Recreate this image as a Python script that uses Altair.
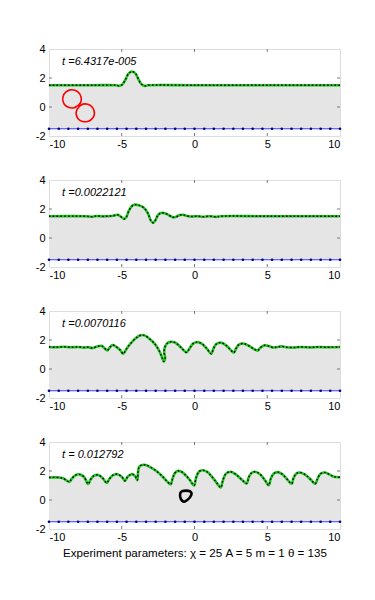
import altair as alt
import pandas as pd

# ---------------- data ----------------
X_DOMAIN = [-10, 10]
Y_DOMAIN = [-2, 4]
BOTTOM_LEVEL = -1.5
X_TICKS = [-10, -5, 0, 5, 10]
Y_TICKS = [-2, 0, 2, 4]
INNER_X_TICKS = [-5, 0, 5]
INNER_Y_TICKS = [0, 2]

TIME_LABELS = ["t =6.4317e-005", "t =0.0022121", "t =0.0070116", "t = 0.012792"]
LABEL_X = -9.1
LABEL_Y = 3.1
CAPTION = "Experiment parameters: \u03c7 = 25 A = 5 m = 1 \u03b8 = 135"

BOTTOM_DOTS_X = [-10, -9.33, -8.67, -8, -7.33, -6.67, -6, -5.33, -4.67, -4, -3.33,
                 -2.67, -2, -1.33, -0.67, 0, 0.67, 1.33, 2, 2.67, 3.33, 4, 4.67,
                 5.33, 6, 6.67, 7.33, 8, 8.67, 9.33, 10]

S1_X = [-10, -7, -5.4, -5.15, -4.95, -4.75, -4.55, -4.3, -4.05, -3.85, -3.65, -3.45, -3.2, 0, 5, 10]
S1_Y = [1.5, 1.5, 1.5, 1.46, 1.56, 1.88, 2.28, 2.45, 2.3, 1.9, 1.58, 1.46, 1.5, 1.5, 1.5, 1.5]

S2_X = [-10, -7.5, -7, -6.7, -6.3, -6, -5.6, -5.3, -5.1, -4.85, -4.7, -4.5, -4.3, -4.1,
        -3.8, -3.5, -3.2, -3.0, -2.85, -2.7, -2.5, -2.3, -2.1, -1.8, -1.5, -1.3, -1.0,
        -0.8, -0.5, -0.2, 0.2, 0.6, 1.0, 1.5, 1.8, 5, 10]
S2_Y = [1.5, 1.5, 1.47, 1.52, 1.49, 1.5, 1.53, 1.6, 1.5, 1.32, 1.42, 1.9, 2.2, 2.3,
        2.25, 2.1, 1.7, 1.2, 1.05, 1.2, 1.6, 1.72, 1.72, 1.6, 1.43, 1.45, 1.58,
        1.6, 1.52, 1.48, 1.5, 1.47, 1.5, 1.46, 1.5, 1.5, 1.5]

S3_X = [-10, -9.5, -9, -8.5, -8, -7.6, -7.3, -7.0, -6.7, -6.4, -6.2, -6.0, -5.85, -5.65,
        -5.4, -5.1, -4.9, -4.7, -4.4, -4.0, -3.7, -3.4, -3.0, -2.7, -2.45, -2.25, -2.12,
        -2.02, -2.08, -2.05, -1.9, -1.65, -1.35, -1.05, -0.8, -0.55, -0.35, -0.1, 0.15,
        0.5, 0.85, 1.15, 1.3, 1.5, 1.8, 2.15, 2.45, 2.7, 2.85, 3.05, 3.35, 3.7, 4.05,
        4.35, 4.5, 4.8, 5.1, 5.4, 5.7, 6.0, 6.3, 6.8, 7.3, 8, 8.5, 9, 10]
S3_Y = [1.52, 1.5, 1.53, 1.5, 1.52, 1.48, 1.5, 1.45, 1.55, 1.6, 1.45, 1.28, 1.45, 1.65,
        1.55, 1.3, 1.05, 1.35, 1.75, 2.15, 2.33, 2.3, 2.0, 1.7, 1.3, 0.85, 0.52,
        0.75, 1.1, 1.45, 1.75, 1.87, 1.83, 1.6, 1.35, 1.15, 1.4, 1.75, 1.85,
        1.75, 1.4, 1.05, 1.4, 1.72, 1.82, 1.65, 1.35, 1.13, 1.4, 1.68, 1.76, 1.62, 1.4,
        1.27, 1.45, 1.63, 1.58, 1.48, 1.52, 1.56, 1.5, 1.48, 1.52, 1.49, 1.52, 1.5, 1.52]

S4_X = [-10, -9.3, -9.0, -8.8, -8.6, -8.45, -8.2, -7.92, -7.6, -7.3, -7.15, -6.9, -6.61,
        -6.3, -6.04, -5.85, -5.6, -5.3, -5.0, -4.78, -4.6, -4.4, -4.25, -4.05, -3.93,
        -3.88, -3.8, -3.6, -3.35, -3.0, -2.6, -2.2, -1.9, -1.64, -1.5, -1.35, -1.15,
        -0.9, -0.6, -0.3, -0.03, 0.1, 0.3, 0.55, 0.85, 1.2, 1.55, 1.8, 1.95, 2.15, 2.45,
        2.8, 3.2, 3.59, 3.72, 3.9, 4.15, 4.5, 4.85, 5.1, 5.25, 5.45, 5.7, 6.0, 6.35,
        6.68, 6.8, 7.0, 7.25, 7.6, 8.0, 8.3, 8.45, 8.65, 8.95, 9.3, 9.6, 10]
S4_Y = [1.55, 1.55, 1.48, 1.35, 1.25, 1.45, 1.7, 1.77, 1.6, 1.1, 1.4, 1.68, 1.72,
        1.5, 1.18, 1.45, 1.72, 1.77, 1.6, 1.32, 1.6, 1.75, 1.78, 1.6, 1.37,
        1.9, 2.3, 2.42, 2.42, 2.25, 1.98, 1.62, 1.3, 1.08, 1.5, 1.85, 2.0,
        1.95, 1.7, 1.35, 1.0, 1.5, 1.95, 2.05, 1.95, 1.6, 1.15, 0.86, 1.35, 1.8, 1.95,
        1.8, 1.45, 1.14, 1.55, 1.85, 1.95, 1.78, 1.35, 1.02, 1.5, 1.82, 1.92, 1.8, 1.45,
        1.12, 1.5, 1.82, 1.9, 1.75, 1.4, 1.12, 1.45, 1.8, 1.9, 1.75, 1.6, 1.57]

RED_X = [-7.98, -7.8, -7.8, -7.95, -8.22, -8.55, -8.85, -9.03, -9.04, -8.9, -8.62, -8.28, -7.98,
         -7.92, -8.1, -8.12, -7.97, -7.69, -7.36, -7.08, -6.9, -6.9, -7.05, -7.33, -7.66, -7.92]
RED_Y = [0.1, 0.38, 0.7, 0.98, 1.16, 1.18, 1.02, 0.74, 0.42, 0.13, -0.04, -0.05, 0.1,
         0.05, -0.22, -0.55, -0.84, -1.0, -1.0, -0.85, -0.58, -0.26, 0.02, 0.19, 0.2, 0.05]

BLOB_X = [-0.9, -0.6, -0.3, -0.2, -0.3, -0.5, -0.7, -0.85, -0.98, -0.98, -0.9]
BLOB_Y = [0.6, 0.65, 0.6, 0.45, 0.2, 0.0, -0.12, -0.05, 0.2, 0.45, 0.6]

SURFACES = [(S1_X, S1_Y), (S2_X, S2_Y), (S3_X, S3_Y), (S4_X, S4_Y)]

# ---------------- chart ----------------
W, H = 291, 87
FONT = "Liberation Sans"
xs = alt.Scale(domain=X_DOMAIN, nice=False, zero=False)
ys = alt.Scale(domain=Y_DOMAIN, nice=False, zero=False)
LABEL_EXPR = "datum.value < 0 ? '-' + abs(datum.value) : '' + datum.value"


def panel(idx):
    sx, sy = SURFACES[idx]
    surf = pd.DataFrame({"x": sx, "y": sy, "i": list(range(len(sx)))})
    poly = pd.DataFrame({
        "x": list(sx) + [X_DOMAIN[1], X_DOMAIN[0]],
        "y": list(sy) + [BOTTOM_LEVEL, BOTTOM_LEVEL],
        "i": list(range(len(sx) + 2)),
    })
    xaxis_kw = dict(values=X_TICKS, tickSize=0, labelPadding=2, grid=False, domain=False,
                    labelFont=FONT, labelFontSize=11, labelColor="#000", labelExpr=LABEL_EXPR)
    if idx == 3:
        xaxis_kw.update(titleFont=FONT, titleFontSize=11.6, titleFontWeight="normal",
                        titlePadding=5, titleColor="#000")
        xtitle = CAPTION
    else:
        xtitle = None
    xaxis = alt.Axis(**xaxis_kw)
    yaxis = alt.Axis(values=Y_TICKS, tickSize=0, labelPadding=4, grid=False, domain=False,
                     labelFont=FONT, labelFontSize=11, labelColor="#000", labelExpr=LABEL_EXPR)

    X = alt.X("x:Q", scale=xs, axis=xaxis, title=xtitle)
    Y = alt.Y("y:Q", scale=ys, axis=yaxis, title=None)

    fill = alt.Chart(poly).mark_line(filled=True, color="#e5e5e5", strokeWidth=0).encode(
        x=X, y=Y, order="i:Q")
    bdf = pd.DataFrame({"x": BOTTOM_DOTS_X, "y": [BOTTOM_LEVEL] * len(BOTTOM_DOTS_X)})
    bline = alt.Chart(bdf).mark_line(color="#3f3fff", strokeWidth=1).encode(x=X, y=Y)
    bdots = alt.Chart(bdf).mark_point(filled=True, color="#000080", size=7, opacity=1).encode(x=X, y=Y)
    green = alt.Chart(surf).mark_line(color="#1fc41f", strokeWidth=2.6, interpolate="catmull-rom").encode(
        x=X, y=Y, order="i:Q")
    black = alt.Chart(surf).mark_line(color="#000", strokeWidth=1.4, strokeDash=[1.6, 2.2],
                                      interpolate="catmull-rom").encode(x=X, y=Y, order="i:Q")
    tdf = pd.DataFrame({"x": [LABEL_X], "y": [LABEL_Y], "t": [TIME_LABELS[idx]]})
    txt = alt.Chart(tdf).mark_text(align="left", baseline="middle", font=FONT, fontSize=11,
                                   fontStyle="italic", color="#000").encode(x=X, y=Y, text="t:N")

    # inward ticks
    tx = pd.DataFrame({"x": INNER_X_TICKS * 2,
                       "y": [Y_DOMAIN[0]] * 3 + [Y_DOMAIN[1]] * 3,
                       "y2": [Y_DOMAIN[0] + 0.2] * 3 + [Y_DOMAIN[1] - 0.2] * 3})
    ty = pd.DataFrame({"y": INNER_Y_TICKS * 2,
                       "x": [X_DOMAIN[0]] * 2 + [X_DOMAIN[1]] * 2,
                       "x2": [X_DOMAIN[0] + 0.2] * 2 + [X_DOMAIN[1] - 0.2] * 2})
    tickx = alt.Chart(tx).mark_rule(color="#777", strokeWidth=1).encode(x=X, y=Y, y2="y2:Q")
    ticky = alt.Chart(ty).mark_rule(color="#777", strokeWidth=1).encode(x=X, x2="x2:Q", y=Y)

    layers = [fill, bline, bdots, green, black, tickx, ticky, txt]
    if idx == 0:
        rdf = pd.DataFrame({"x": RED_X, "y": RED_Y, "i": list(range(len(RED_X)))})
        layers.append(alt.Chart(rdf).mark_line(color="#ff0000", strokeWidth=1.6,
                                               interpolate="catmull-rom").encode(x=X, y=Y, order="i:Q"))
    if idx == 3:
        kdf = pd.DataFrame({"x": BLOB_X, "y": BLOB_Y, "i": list(range(len(BLOB_X)))})
        layers.append(alt.Chart(kdf).mark_line(color="#000", strokeWidth=2.6,
                                               interpolate="catmull-rom").encode(x=X, y=Y, order="i:Q"))
    return alt.layer(*layers).properties(width=W, height=H)


chart = alt.vconcat(*[panel(i) for i in range(4)], spacing=23).properties(
    padding={"left": 26, "top": 34, "right": 5, "bottom": 5}
).configure_view(stroke="#7a7a7a", strokeWidth=1).configure(background="white")

chart.save("out.html", embed_options={"renderer": "svg", "actions": False})
